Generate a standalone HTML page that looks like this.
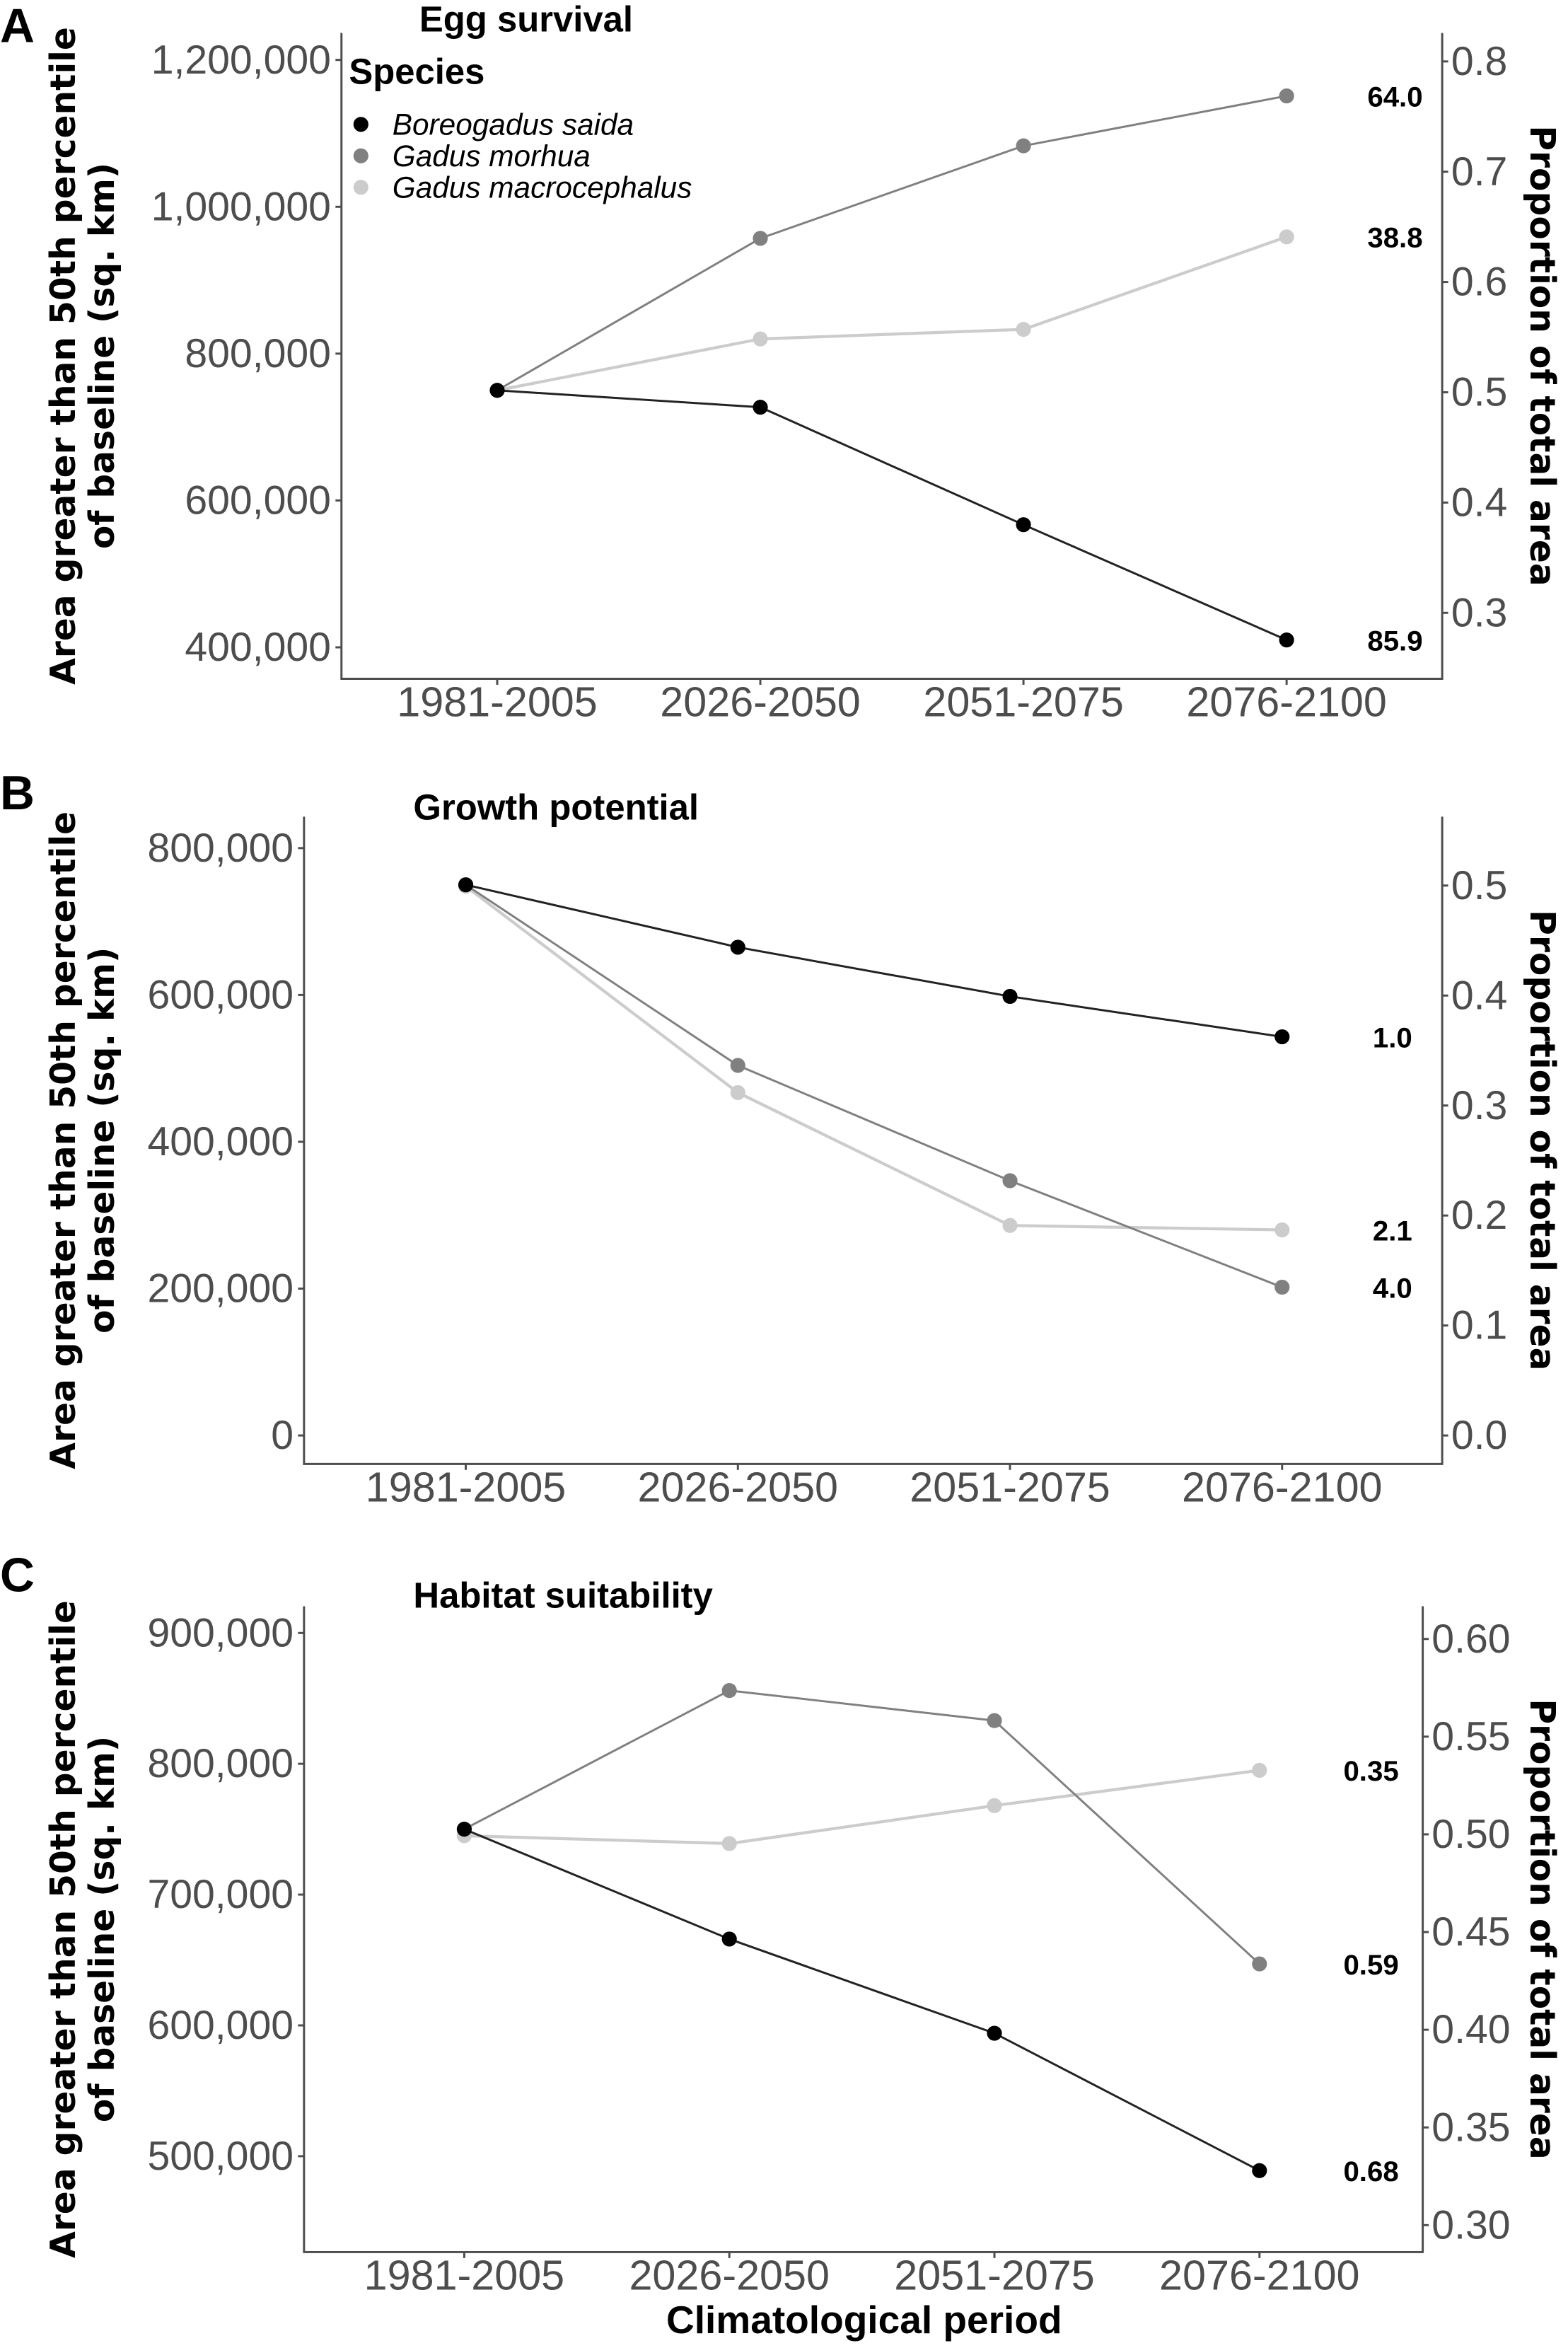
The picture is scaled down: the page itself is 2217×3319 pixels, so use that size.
<!DOCTYPE html>
<html><head><meta charset="utf-8"><style>
html,body{margin:0;padding:0;background:#fff;}
svg{display:block;}
text{font-family:"Liberation Sans",sans-serif;}
.tick{fill:#4d4d4d;font-size:27px;}
.xtick{fill:#4d4d4d;font-size:28px;}
.ttl{font-weight:bold;font-size:24px;fill:#000;}
.ax{stroke:#4d4d4d;stroke-width:1.4;fill:none;}
.ylab{font-family:"DejaVu Sans","Liberation Sans",sans-serif;font-weight:bold;font-size:23px;fill:#000;}
.val{font-weight:bold;font-size:19px;fill:#000;}
</style></head><body>
<svg id="fig" width="2217" height="3319" viewBox="0 0 1047 1567" preserveAspectRatio="none" xmlns="http://www.w3.org/2000/svg"></svg>
<script>
const periods = ["1981-2005","2026-2050","2051-2075","2076-2100"];
const speciesNames = ["Boreogadus saida","Gadus morhua","Gadus macrocephalus"];
const speciesColors = ["#000000","#808080","#cccccc"];
// Panel A: Egg survival
const eggBoreo = [750000, 727000, 567000, 410000];
const eggMorhua = [750000, 957000, 1083000, 1151000];
const eggMacro = [750000, 820000, 833000, 959000];
const eggLeftTicks = [400000, 600000, 800000, 1000000, 1200000];
const eggRightTicks = ["0.3","0.4","0.5","0.6","0.7","0.8"];
const eggLabels = ["85.9","64.0","38.8"];
// Panel B: Growth potential
const growBoreo = [750000, 665000, 598000, 543000];
const growMorhua = [750000, 504000, 347000, 202000];
const growMacro = [748000, 467000, 286000, 280000];
const growLeftTicks = [0, 200000, 400000, 600000, 800000];
const growRightTicks = ["0.0","0.1","0.2","0.3","0.4","0.5"];
const growLabels = ["1.0","4.0","2.1"];
// Panel C: Habitat suitability
const habBoreo = [750000, 666000, 594000, 489000];
const habMorhua = [750000, 856000, 833000, 647000];
const habMacro = [745000, 739000, 768000, 795000];
const habLeftTicks = [500000, 600000, 700000, 800000, 900000];
const habRightTicks = ["0.30","0.35","0.40","0.45","0.50","0.55","0.60"];
const habLabels = ["0.68","0.59","0.35"];

const NS="http://www.w3.org/2000/svg";
const svg=document.getElementById('fig');
function mk(tag,attrs,parent,txt){const e=document.createElementNS(NS,tag);for(const k in attrs)e.setAttribute(k,attrs[k]);if(txt!==undefined)e.textContent=txt;(parent||svg).appendChild(e);return e;}
function fmt(v){return v.toLocaleString('en-US');}

function panel(cfg){
  const g=mk('g',{});
  
  
  const {L,R,T,B}=cfg;
  const xs=i=>cfg.x0+i*cfg.dx;
  const yL=v=>cfg.yRef-(v-cfg.vRef)*cfg.pxPer;
  const yR=v=>cfg.rRef-(parseFloat(v)-cfg.rVal)*cfg.rPer;
  let a=mk('path',{d:`M${L},${T}V${B}H${R}V${T}`,class:'ax'},g);
  
  
  cfg.left.forEach(v=>{const y=yL(v);
    mk('line',{x1:L-4,x2:L,y1:y,y2:y,class:'ax'},g);
    const t=mk('text',{x:L-7,y:y+9,'text-anchor':'end',class:'tick'},g,fmt(v));
    
    
  });
  cfg.right.forEach(v=>{const y=yR(v);
    mk('line',{x1:R,x2:R+4,y1:y,y2:y,class:'ax'},g);
    const t=mk('text',{x:R+6,y:y+9,class:'tick'},g,v);
    
    
  });
  periods.forEach((p,i)=>{const x=xs(i);
    mk('line',{x1:x,x2:x,y1:B,y2:B+4,class:'ax'},g);
    const t=mk('text',{x:x,y:B+25,'text-anchor':'middle',class:'xtick'},g,p);
    
    
  });
  const order=[2,1,0];
  order.forEach(si=>{
    const vals=cfg.series[si];
    const pts=vals.map((v,i)=>xs(i)+','+yL(v)).join(' ');
    const pl=mk('polyline',{points:pts,fill:'none',stroke:si===0?'#222':speciesColors[si],'stroke-width':si===2?2:1.4},g);
    
    
    vals.forEach((v,i)=>{
      const c=mk('circle',{cx:xs(i),cy:yL(v),r:5,fill:speciesColors[si]},g);
      
      
    });
    const lt=mk('text',{x:cfg.labX,y:yL(vals[3])+7,'text-anchor':'end',class:'val'},g,cfg.labels[si]);
    
    
  });
  const ti=mk('text',{x:cfg.titleX,y:cfg.titleY,class:'ttl'},g,cfg.title);
  
  
  const le=mk('text',{x:0,y:cfg.letterY,style:'font-weight:bold;font-size:32px'},g,cfg.letter);
  
  
  const my=(T+B)/2+cfg.titleShift;
  const yt=mk('text',{transform:`translate(50,${my}) rotate(-90)`,'text-anchor':'middle',class:'ylab'},g);
  mk('tspan',{x:0,dy:0},yt,'Area greater than 50th percentile');
  mk('tspan',{x:0,dy:26},yt,'of baseline (sq. km)');
  
  
  const rt=mk('text',{transform:`translate(1022,${my}) rotate(90)`,'text-anchor':'middle',class:'ylab'},g,'Proportion of total area');
  
  
}

panel({id:'egg',letter:'A',letterY:28,title:'Egg survival',titleX:280,titleY:21,L:228,R:963,T:22,B:453,
  x0:332,dx:175.7,yRef:432,vRef:400000,pxPer:98/200000,rRef:409,rVal:0.3,rPer:73.6/0.1,
  left:eggLeftTicks,right:eggRightTicks,series:[eggBoreo,eggMorhua,eggMacro],labels:eggLabels,labX:950,titleShift:0});
panel({id:'growth',letter:'B',letterY:540,title:'Growth potential',titleX:276,titleY:547,L:203,R:963,T:545,B:977,
  x0:311,dx:181.7,yRef:958,vRef:0,pxPer:98/200000,rRef:958,rVal:0,rPer:73.4/0.1,
  left:growLeftTicks,right:growRightTicks,series:[growBoreo,growMorhua,growMacro],labels:growLabels,labX:943,titleShift:0});
panel({id:'habitat',letter:'C',letterY:1062,title:'Habitat suitability',titleX:276,titleY:1073,L:203,R:950,T:1072,B:1503,
  x0:310,dx:177,yRef:1439,vRef:500000,pxPer:87.3/100000,rRef:1485,rVal:0.30,rPer:65.2/0.05,
  left:habLeftTicks,right:habRightTicks,series:[habBoreo,habMorhua,habMacro],labels:habLabels,labX:934,titleShift:0});

const lg=mk('g',{});


const lt=mk('text',{x:233,y:56,class:'ttl'},lg,'Species');


speciesNames.forEach((n,i)=>{
  const y=83+i*21;
  const c=mk('circle',{cx:241,cy:y,r:5,fill:speciesColors[i]},lg);
  
  
  const t=mk('text',{x:262,y:y+7,style:'font-style:italic;font-size:20px;fill:#000'},lg,n);
  
  
});
const xt=mk('text',{x:577,y:1557,'text-anchor':'middle',style:'font-weight:bold;font-size:26px'},svg,'Climatological period');


</script>
</body></html>
